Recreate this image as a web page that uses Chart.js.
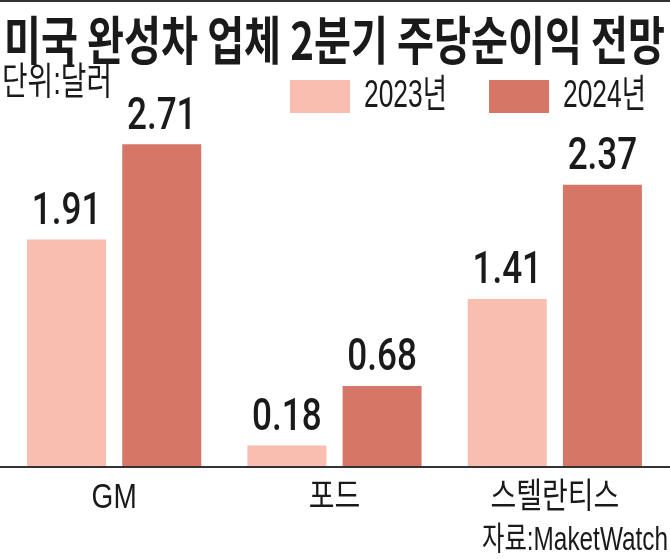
<!DOCTYPE html>
<html>
<head>
<meta charset="utf-8">
<script src="https://cdn.jsdelivr.net/npm/chart.js@4.4.1/dist/chart.umd.min.js"></script>
<style>
  html, body { margin: 0; padding: 0; background: #fff; }
  .ChartWrapper { width: 670px; height: 559px; position: relative; }
</style>
</head>
<body>
<div class="ChartWrapper"><canvas id="myChart"></canvas></div>
<script>
// data
const titleText = '미국 완성차 업체 2분기 주당순이익 전망';
const unitText = '단위:달러';
const sourceText = '자료:MaketWatch';
const categories = ['GM', '포드', '스텔란티스'];
const seriesNames = ['2023년', '2024년'];
const eps2023 = [1.91, 0.18, 1.41];
const eps2024 = [2.71, 0.68, 2.37];
const seriesColors = ['#F9BEAF', '#D67666'];

// draws text centred vertically on y, squeezed horizontally (the original uses a condensed face)
function drawText(ctx, text, x, y, font, opts) {
  ctx.save();
  ctx.font = font;
  ctx.textBaseline = 'middle';
  ctx.textAlign = 'left';
  const w = ctx.measureText(text).width;
  const sx = opts.width ? opts.width / w : (opts.sx || 1);
  let left = x;
  if (opts.align === 'right') left = x - w * sx;
  else if (opts.align === 'center') left = x - w * sx / 2;
  ctx.translate(left, y);
  ctx.scale(sx, 1);
  ctx.fillStyle = opts.color || '#1a1a1a';
  ctx.fillText(text, 0, 0);
  ctx.restore();
}

const decor = {
  id: 'decor',
  afterDraw(chart) {
    const ctx = chart.ctx;
    const area = chart.chartArea;
    const W = chart.width;
    const xScale = chart.scales.x;

    ctx.save();
    ctx.fillStyle = '#333';
    ctx.fillRect(0, 0, W, 2);
    ctx.fillRect(0, area.bottom - 1, W, 2);
    ctx.restore();

    drawText(ctx, titleText, 4, 40, 'bold 52px "Noto Sans CJK KR"', { width: 661 });
    drawText(ctx, unitText, 2, 84, '38px "Liberation Sans", "Noto Sans CJK KR"', { width: 110 });
    drawText(ctx, sourceText, 668, 541, '33px "Liberation Sans", "Noto Sans CJK KR"', { width: 186, align: 'right' });

    // legend
    const legendBoxes = [290, 489];
    seriesNames.forEach((name, i) => {
      ctx.fillStyle = seriesColors[i];
      ctx.fillRect(legendBoxes[i], 80, 60, 33);
      drawText(ctx, name, legendBoxes[i] + 74, 96, '39px "Liberation Sans", "Noto Sans CJK KR"', { width: 83 });
    });

    // category labels on the x scale
    categories.forEach((name, j) => {
      drawText(ctx, name, xScale.getPixelForValue(j), 498,
        '35px "Liberation Sans", "Noto Sans CJK KR"', { align: 'center', sx: 0.8 });
    });

    // value labels
    chart.data.datasets.forEach((ds, i) => {
      chart.getDatasetMeta(i).data.forEach((bar, j) => {
        drawText(ctx, ds.data[j].toFixed(2), bar.x, bar.y - 27,
          '500 45px Roboto', { align: 'center', sx: 0.78 });
      });
    });
  }
};

const myChartRef = document.getElementById('myChart').getContext('2d');

new Chart(myChartRef, {
  type: 'bar',
  data: {
    labels: categories,
    datasets: [
      { label: seriesNames[0], data: eps2023, backgroundColor: seriesColors[0] },
      { label: seriesNames[1], data: eps2024, backgroundColor: seriesColors[1] }
    ]
  },
  options: {
    responsive: true,
    maintainAspectRatio: false,
    animation: false,
    categoryPercentage: 0.864,
    barPercentage: 0.83,
    layout: { padding: { top: 86, left: 4, right: 5, bottom: 0 } },
    plugins: {
      legend: { display: false },
      title: { display: false },
      tooltip: { enabled: false }
    },
    scales: {
      x: {
        grid: { display: false, drawTicks: false },
        border: { display: false },
        ticks: { display: false },
        afterFit: (scale) => { scale.height = 92; }
      },
      y: {
        display: false,
        min: 0,
        max: 3.2
      }
    }
  },
  plugins: [decor]
});
</script>
</body>
</html>
